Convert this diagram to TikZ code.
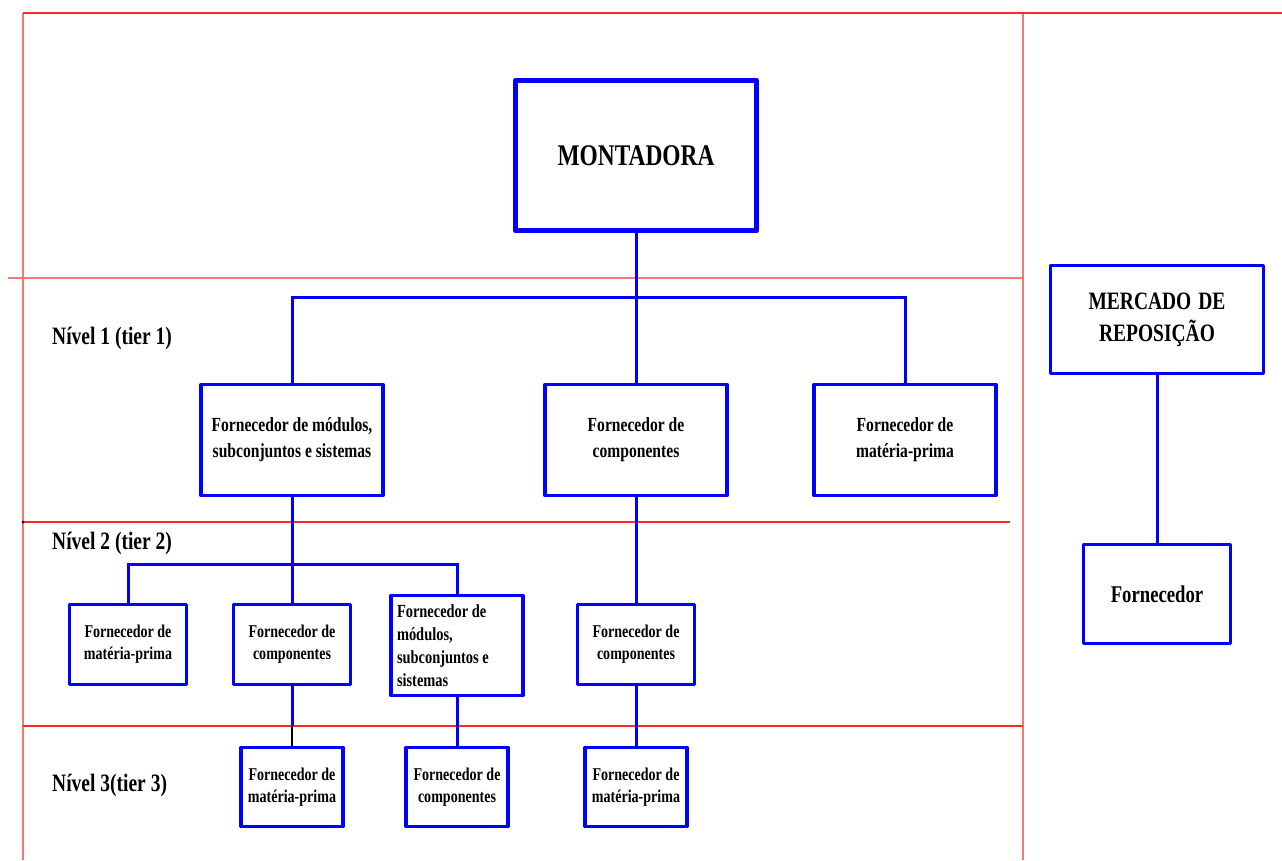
\documentclass[tikz,border=0pt]{standalone}
\usepackage{fontspec}
\setmainfont{Liberation Serif}[FakeStretch=0.78]
\definecolor{rulered}{RGB}{255,40,40}
\definecolor{rulepink}{RGB}{245,120,120}
\begin{document}
\begin{tikzpicture}[x=1pt,y=-1pt,
  rule/.style={draw=rulered, line width=1.2pt},
  ruleside/.style={draw=rulepink, line width=1.3pt},
  box/.style={draw=blue, line width=3.2pt, fill=white, align=center, inner sep=2pt,
    line join=round, font=\bfseries\fontsize{18}{22}\selectfont},
  bigbox/.style={box, line width=5.5pt, font=\bfseries\fontsize{30}{36}\selectfont},
  midbox/.style={box, font=\bfseries\fontsize{20}{26}\selectfont},
  sidebox/.style={box, font=\bfseries\fontsize{25}{32}\selectfont},
  link/.style={draw=blue, line width=3pt},
  tierlabel/.style={anchor=west, inner sep=0pt, font=\bfseries\fontsize{25}{30}\selectfont},
]
\useasboundingbox (0,0) rectangle (1282,860);

% frame and level separators
\draw[ruleside] (23,13) -- (23,860);
\draw[ruleside] (1023,13) -- (1023,860);
\draw[rule] (23,13) -- (1282,13);
\draw[ruleside] (8,278) -- (1023,278);
\draw[rule] (23,522) -- (1010,522);
\draw[rule] (23,726) -- (1023,726);
\fill (23,522) circle (1.5);

% level labels
\node[tierlabel] (n1) at (52,338) {Nível 1 (tier 1)};
\node[tierlabel] (n2) at (52,543) {Nível 2 (tier 2)};
\node[tierlabel] (n3) at (52,785) {Nível 3(tier 3)};

% assembler
\node[bigbox, minimum width=241pt, minimum height=150pt] (mont) at (636,155.5) {MONTADORA};

% tier 1
\node[midbox, minimum width=182pt, minimum height=111pt] (t1a) at (292,440)
  {Fornecedor de módulos,\\subconjuntos e sistemas};
\node[midbox, minimum width=182pt, minimum height=111pt] (t1b) at (636,440)
  {Fornecedor de\\componentes};
\node[midbox, minimum width=182pt, minimum height=111pt] (t1c) at (905,440)
  {Fornecedor de\\matéria-prima};

% tier 2
\node[box, minimum width=117pt, minimum height=80pt] (t2a) at (128,644.5)
  {Fornecedor de\\matéria-prima};
\node[box, minimum width=117pt, minimum height=80pt] (t2b) at (292,644.5)
  {Fornecedor de\\componentes};
\node[box, align=flush left, text width=120pt, minimum width=132pt, minimum height=100pt,
  font=\bfseries\fontsize{18.5}{23}\selectfont] (t2c) at (457,645.5)
  {Fornecedor de\\módulos,\\subconjuntos e\\sistemas};
\node[box, minimum width=117pt, minimum height=80pt] (t2d) at (636,644.5)
  {Fornecedor de\\componentes};

% tier 3
\node[box, minimum width=102pt, minimum height=79pt] (t3a) at (292,787)
  {Fornecedor de\\matéria-prima};
\node[box, minimum width=102pt, minimum height=79pt] (t3b) at (457,787)
  {Fornecedor de\\componentes};
\node[box, minimum width=102pt, minimum height=79pt] (t3c) at (636,787)
  {Fornecedor de\\matéria-prima};

% aftermarket
\node[sidebox, minimum width=213pt, minimum height=108pt] (merc) at (1157,319.5)
  {MERCADO\hspace{7pt}DE\\REPOSIÇÃO};
\node[box, minimum width=147pt, minimum height=99pt,
  font=\bfseries\fontsize{24}{30}\selectfont] (forn) at (1157,594) {Fornecedor};

% connectors
\coordinate (j1) at (636,297);
\draw[link] (mont.south) -- (j1);
\draw[link] (t1a.north) |- (j1) -| (t1c.north);
\draw[link] (j1) -- (t1b.north);

\coordinate (j2) at (292,564);
\draw[link] (t1a.south) -- (j2);
\draw[link] (t2a.north) |- (j2) -| (t2c.north);
\draw[link] (j2) -- (t2b.north);
\draw[link] (t1b.south) -- (t2d.north);

\coordinate (k) at (292,726);
\draw[link] (t2b.south) -- (k);
\draw[link, draw=black, line width=2.5pt] (k) -- (t3a.north);
\draw[link] (t2c.south) -- (t3b.north);
\draw[link] (t2d.south) -- (t3c.north);

\draw[link] (merc.south) -- (forn.north);
\end{tikzpicture}
\end{document}
